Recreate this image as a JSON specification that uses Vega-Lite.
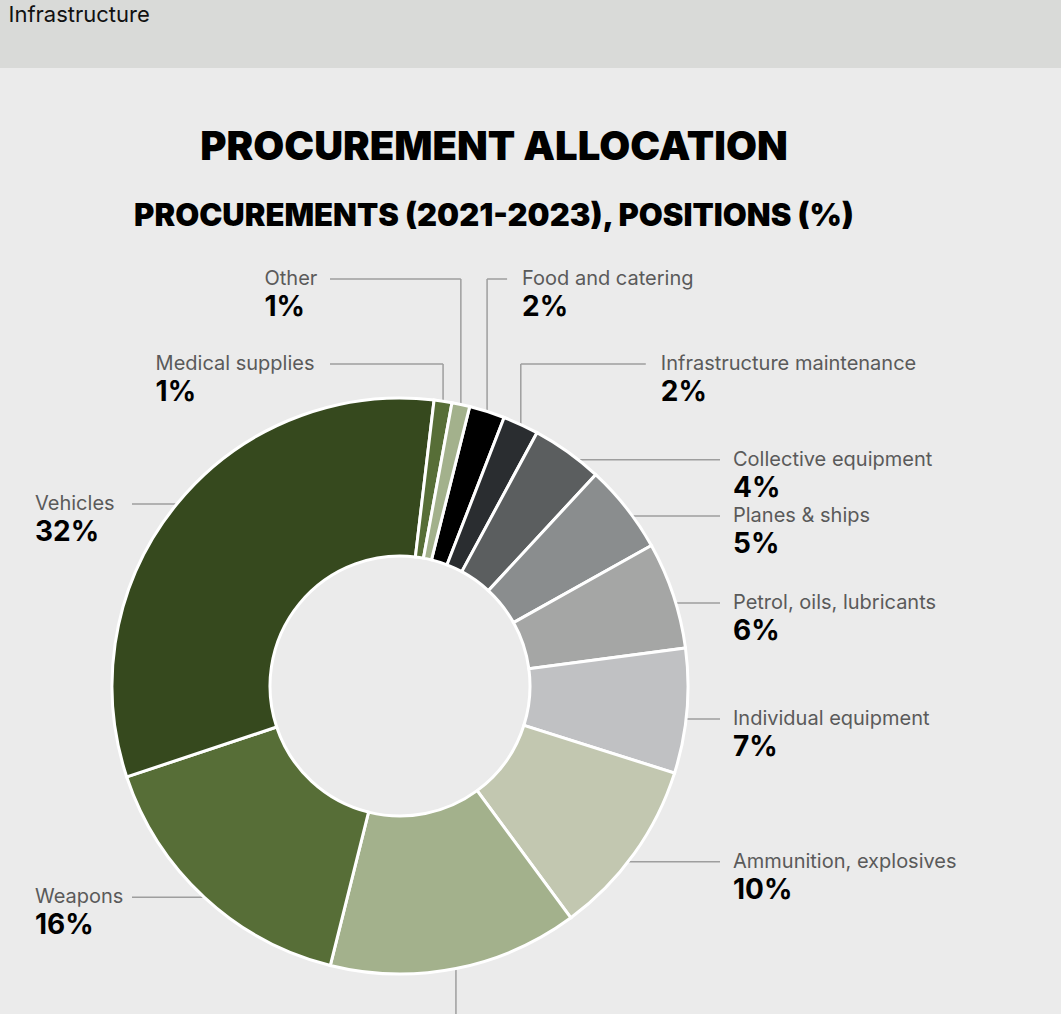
{
  "$schema": "https://vega.github.io/schema/vega-lite/v6.json",
  "padding": 0,
  "background": "#ebebeb",
  "spacing": 60,
  "config": {"view": {"stroke": null}},
  "vconcat": [
    {
      "width": 1061,
      "height": 68,
      "view": {"fill": "#d9dad8", "stroke": null},
      "data": {"values": [{"t": "Infrastructure"}]},
      "mark": {"type": "text", "align": "left", "baseline": "alphabetic", "dx": -522, "dy": -12, "fontSize": 22, "font": "Inter", "color": "#111111"},
      "encoding": {"text": {"field": "t", "type": "nominal"}}
    },
    {
      "width": 800,
      "height": 882,
      "view": {"fill": "#ebebeb", "stroke": null},
      "title": {
        "text": "PROCUREMENT ALLOCATION",
        "subtitle": "PROCUREMENTS (2021-2023), POSITIONS (%)",
        "anchor": "middle",
        "dx": 94,
        "font": "Inter",
        "fontSize": 40,
        "fontWeight": 900,
        "color": "#000000",
        "subtitleFont": "Inter",
        "subtitleFontSize": 31,
        "subtitleFontWeight": 900,
        "subtitleColor": "#000000",
        "subtitlePadding": 34,
        "offset": 13
      },
      "data": {
        "values": [
          {"name": "Food and catering", "value": 2},
          {"name": "Infrastructure maintenance", "value": 2},
          {"name": "Collective equipment", "value": 4},
          {"name": "Planes & ships", "value": 5},
          {"name": "Petrol, oils, lubricants", "value": 6},
          {"name": "Individual equipment", "value": 7},
          {"name": "Ammunition, explosives", "value": 10},
          {"name": "Spare parts", "value": 14},
          {"name": "Weapons", "value": 16},
          {"name": "Vehicles", "value": 32},
          {"name": "Medical supplies", "value": 1},
          {"name": "Other", "value": 1}
        ]
      },
      "transform": [
        {"window": [{"op": "sum", "field": "value", "as": "cum"}], "frame": [null, 0]},
        {"calculate": "datum.cum - datum.value", "as": "t0"},
        {"calculate": "(14 + 3.6 * (datum.cum - datum.value / 2)) % 360", "as": "m"},
        {"calculate": "288 * sin(datum.m * PI / 180)", "as": "ex"},
        {"calculate": "288 * cos(datum.m * PI / 180)", "as": "ey"},
        {"calculate": "datum.m > 150 && datum.m < 200 ? 'B' : (datum.m >= 30 && datum.m <= 150 ? 'R' : (datum.m >= 200 && datum.m <= 340 ? 'L' : 'T'))", "as": "grp"},
        {"calculate": "datum.grp == 'T' ? ((datum.m < 15 || datum.m > 340) ? 'L' : 'R') : datum.grp", "as": "side"},
        {"calculate": "abs(datum.m - 15) < 5", "as": "hi"},
        {"calculate": "datum.grp == 'T' ? (datum.hi ? 407 : 322) : (datum.grp == 'B' ? -420 : (datum.grp == 'R' ? datum.ey - 8 : datum.ey))", "as": "ly"},
        {"calculate": "datum.grp == 'R' ? sqrt(max(0, 82944 - datum.ly * datum.ly)) - 1 : datum.ex", "as": "hx1"},
        {"calculate": "datum.grp == 'R' ? 320 : (datum.grp == 'L' ? -268 : (datum.grp == 'B' ? datum.ex : (datum.side == 'L' ? -70 : datum.ex + (datum.hi ? 20 : 125))))", "as": "hx2"},
        {"calculate": "datum.grp == 'R' ? 333 : (datum.grp == 'L' ? -365 : (datum.grp == 'B' ? datum.ex : (datum.side == 'L' ? -86 - 9.9 * length(datum.name) : datum.hx2 + 15)))", "as": "tx"},
        {"calculate": "datum.value + '%'", "as": "pct"}
      ],
      "layer": [
        {
          "transform": [{"filter": "datum.grp == 'T' || datum.grp == 'B'"}],
          "mark": {"type": "rule", "color": "#9e9e9e", "strokeWidth": 1.5},
          "encoding": {
            "x": {"field": "ex", "type": "quantitative", "scale": {"domain": [-400, 400], "nice": false, "zero": false}, "axis": null},
            "y": {"field": "ey", "type": "quantitative", "scale": {"domain": [-441, 441], "nice": false, "zero": false}, "axis": null},
            "y2": {"field": "ly"}
          }
        },
        {
          "transform": [{"filter": "datum.grp != 'B'"}],
          "mark": {"type": "rule", "color": "#9e9e9e", "strokeWidth": 1.5},
          "encoding": {
            "x": {"field": "hx1", "type": "quantitative", "scale": {"domain": [-400, 400], "nice": false, "zero": false}, "axis": null},
            "x2": {"field": "hx2"},
            "y": {"field": "ly", "type": "quantitative", "scale": {"domain": [-441, 441], "nice": false, "zero": false}, "axis": null}
          }
        },
        {
          "mark": {"type": "arc", "outerRadius": 288, "innerRadius": 130, "stroke": "#ffffff", "strokeWidth": 3},
          "encoding": {
            "theta": {"field": "t0", "type": "quantitative", "stack": null, "scale": {"domain": [0, 100], "range": [0.24435, 6.52753]}},
            "theta2": {"field": "cum"},
            "color": {
              "field": "name",
              "type": "nominal",
              "legend": null,
              "scale": {
                "domain": ["Food and catering", "Infrastructure maintenance", "Collective equipment", "Planes & ships", "Petrol, oils, lubricants", "Individual equipment", "Ammunition, explosives", "Spare parts", "Weapons", "Vehicles", "Medical supplies", "Other"],
                "range": ["#000000", "#2a2d30", "#5b5e5f", "#8a8d8e", "#a5a6a5", "#c0c1c3", "#c2c7b0", "#a3b18c", "#576e37", "#36491e", "#576e37", "#a3b18c"]
              }
            }
          }
        },
        {
          "transform": [{"filter": "datum.grp != 'B'"}],
          "mark": {"type": "text", "align": "left", "baseline": "middle", "font": "Inter", "fontSize": 20, "color": "#5a5a5a"},
          "encoding": {
            "x": {"field": "tx", "type": "quantitative", "scale": {"domain": [-400, 400], "nice": false, "zero": false}, "axis": null},
            "y": {"field": "ly", "type": "quantitative", "scale": {"domain": [-441, 441], "nice": false, "zero": false}, "axis": null},
            "text": {"field": "name", "type": "nominal"}
          }
        },
        {
          "transform": [{"filter": "datum.grp != 'B'"}],
          "mark": {"type": "text", "align": "left", "baseline": "middle", "dy": 29, "font": "Inter", "fontSize": 28, "fontWeight": "bold", "color": "#000000"},
          "encoding": {
            "x": {"field": "tx", "type": "quantitative", "scale": {"domain": [-400, 400], "nice": false, "zero": false}, "axis": null},
            "y": {"field": "ly", "type": "quantitative", "scale": {"domain": [-441, 441], "nice": false, "zero": false}, "axis": null},
            "text": {"field": "pct", "type": "nominal"}
          }
        }
      ]
    }
  ]
}
